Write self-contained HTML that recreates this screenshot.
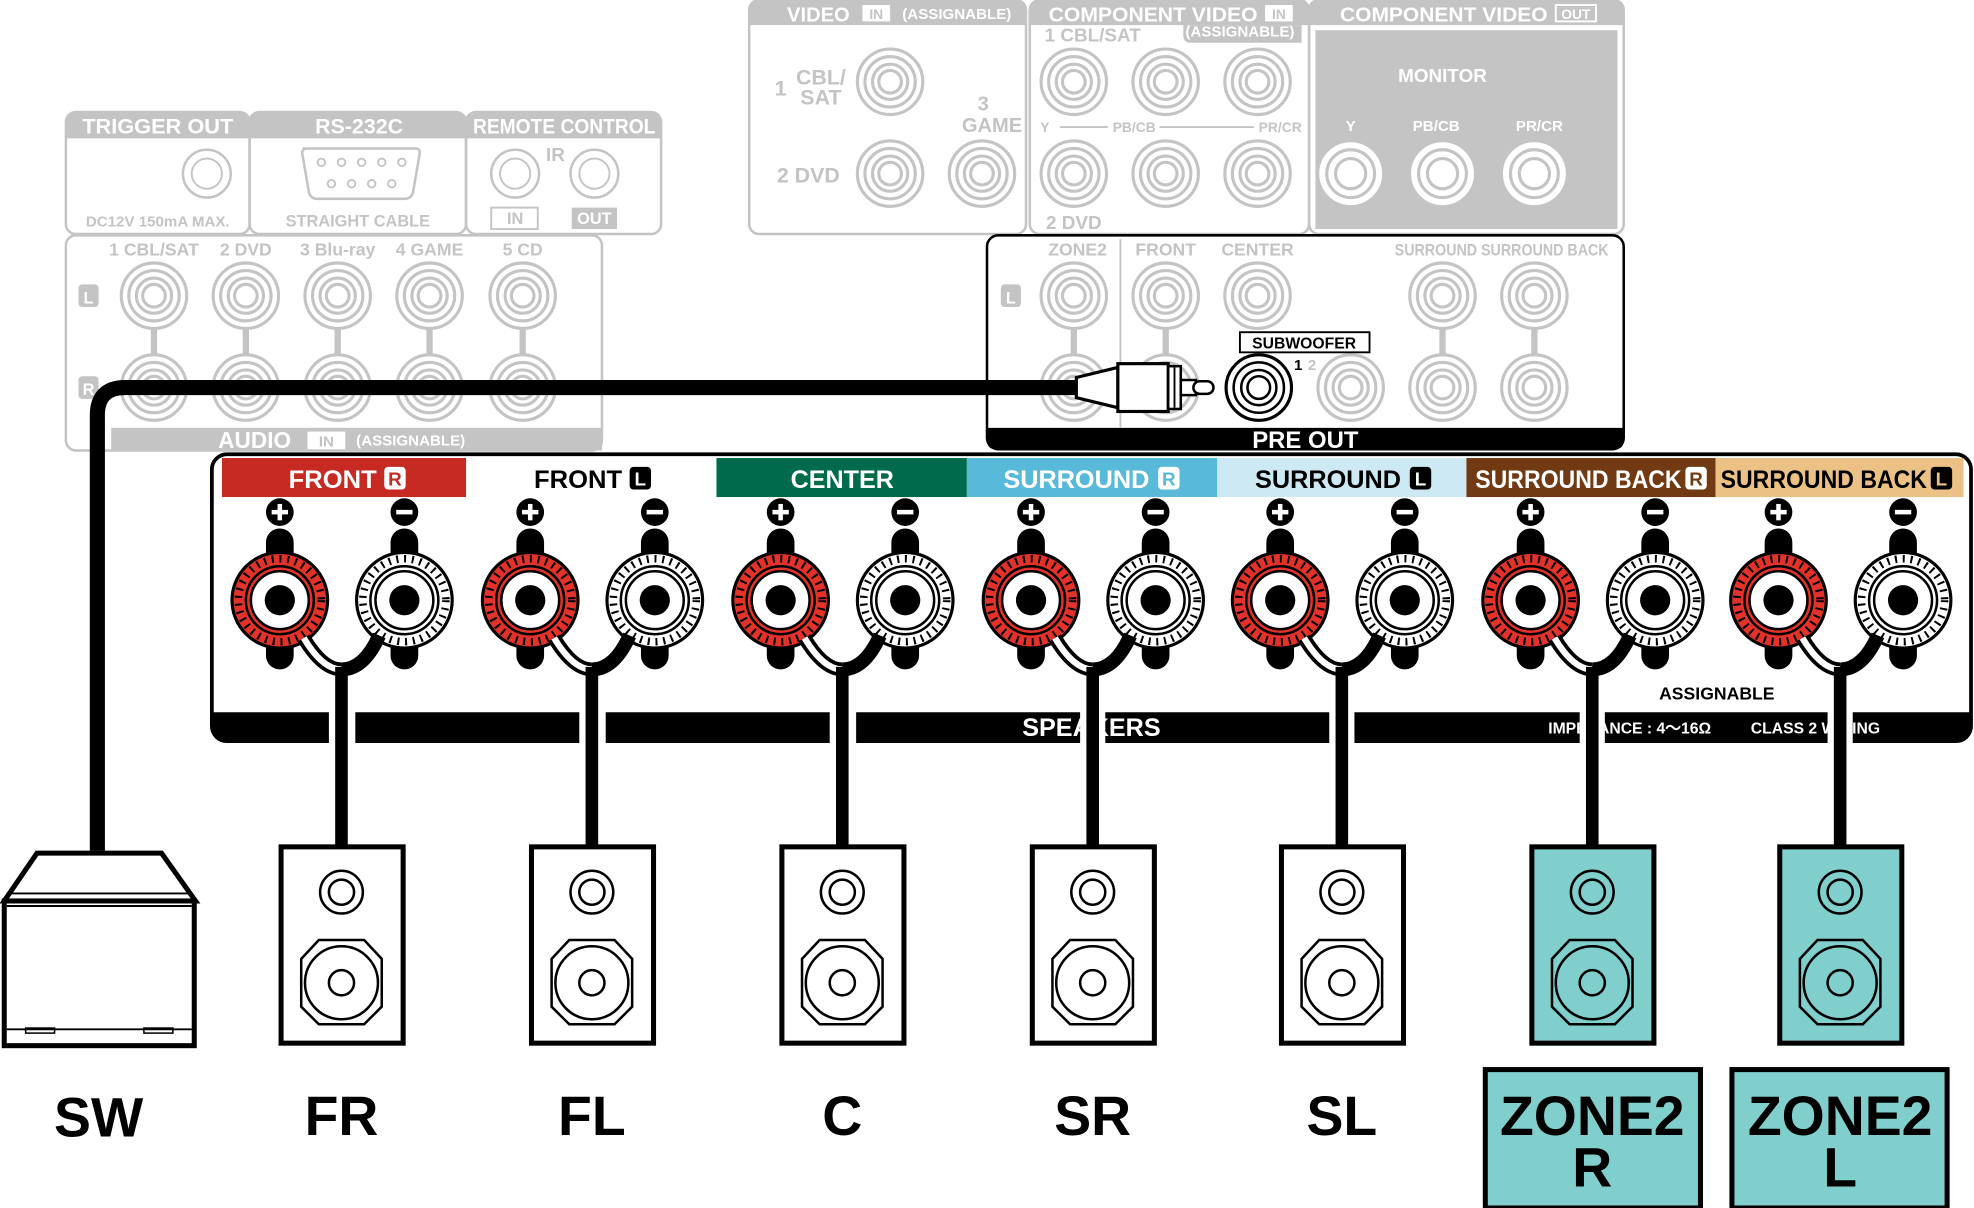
<!DOCTYPE html>
<html><head><meta charset="utf-8"><style>
html,body{margin:0;padding:0;background:#fff}
svg{display:block}
text{font-family:"Liberation Sans",sans-serif;font-weight:bold}
</style></head><body>
<svg width="1974" height="1208" viewBox="0 0 1568 960" xmlns="http://www.w3.org/2000/svg">
<defs>
<g id="j"><circle r="26" fill="#fff" stroke="#c4c4c4" stroke-width="2.5"/><circle r="20" fill="none" stroke="#c4c4c4" stroke-width="2.5"/><circle r="14" fill="none" stroke="#c4c4c4" stroke-width="2.5"/><circle r="9" fill="none" stroke="#c4c4c4" stroke-width="2.5"/></g>
<g id="jw"><circle r="26" fill="#fff" stroke="#c4c4c4" stroke-width="2"/><circle r="19" fill="none" stroke="#c4c4c4" stroke-width="2.5"/><circle r="12" fill="none" stroke="#c4c4c4" stroke-width="2.5"/></g>
<g id="tp"><rect x="-11" y="-57" width="22" height="112" rx="11" fill="#000"/><circle r="38" fill="#e2322a" stroke="#000" stroke-width="2.5"/><circle r="33" fill="none" stroke="#000" stroke-width="6" stroke-dasharray="1.6 4.6"/><circle r="27" fill="#e2322a" stroke="#000" stroke-width="2"/><circle r="23" fill="#fff" stroke="#000" stroke-width="2"/><circle r="12" fill="#000"/></g>
<g id="tm"><rect x="-11" y="-57" width="22" height="112" rx="11" fill="#000"/><circle r="38" fill="#fff" stroke="#000" stroke-width="2.5"/><circle r="33" fill="none" stroke="#000" stroke-width="6" stroke-dasharray="1.6 4.6"/><circle r="27" fill="#fff" stroke="#000" stroke-width="2"/><circle r="23" fill="#fff" stroke="#000" stroke-width="2"/><circle r="12" fill="#000"/></g>
<g id="pl"><circle r="11" fill="#000"/><rect x="-6.5" y="-1.8" width="13" height="3.6" fill="#fff"/><rect x="-1.8" y="-6.5" width="3.6" height="13" fill="#fff"/></g>
<g id="mi"><circle r="11" fill="#000"/><rect x="-6.5" y="-1.8" width="13" height="3.6" fill="#fff"/></g>
<g id="ch">
<use href="#tp" x="-49" y="477"/><use href="#tm" x="50" y="477"/>
<use href="#pl" x="-49" y="407"/><use href="#mi" x="50" y="407"/>
<path d="M-30 507 Q-15 532 0 532" fill="none" stroke="#000" stroke-width="11"/>
<path d="M-30 507 Q-15 532 0 532" fill="none" stroke="#fff" stroke-width="5"/>
<path d="M30 505 Q18 532 0 532" fill="none" stroke="#000" stroke-width="11"/>
</g>
<g id="spk">
<rect x="-48" y="673" width="97" height="156" stroke="#000" stroke-width="4"/>
<circle cx="0" cy="709" r="17" fill="none" stroke="#000" stroke-width="2"/>
<circle cx="0" cy="709" r="10" fill="none" stroke="#000" stroke-width="2"/>
<path d="M-18 747 L18 747 L32 762 L32 800 L18 814 L-18 814 L-32 800 L-32 762 Z" fill="none" stroke="#000" stroke-width="2"/>
<circle cx="0" cy="781" r="29" fill="none" stroke="#000" stroke-width="2"/>
<circle cx="0" cy="781" r="10" fill="none" stroke="#000" stroke-width="2"/>
</g>
</defs>

<!-- ===== top-left gray panels ===== -->
<g fill="none" stroke="#c4c4c4" stroke-width="2">
<rect x="52" y="89" width="146" height="97" rx="8"/>
<rect x="198" y="89" width="172" height="97" rx="8"/>
<rect x="370" y="89" width="155" height="97" rx="8"/>
<rect x="52" y="187" width="426" height="171" rx="8"/>
<rect x="595" y="0" width="220" height="186" rx="8"/>
<rect x="818" y="0" width="222" height="186" rx="8"/>
<rect x="1040" y="0" width="250" height="186" rx="8"/>
</g>
<g fill="#c4c4c4">
<path d="M52 110 V97 Q52 89 60 89 H190 Q198 89 198 97 V110Z"/>
<path d="M198 110 V97 Q198 89 206 89 H362 Q370 89 370 97 V110Z"/>
<path d="M370 110 V97 Q370 89 378 89 H517 Q525 89 525 97 V110Z"/>
<rect x="88" y="340" width="390" height="18"/>
<path d="M595 20 V8 Q595 0 603 0 H807 Q815 0 815 8 V20Z"/>
<path d="M818 20 V8 Q818 0 826 0 H1032 Q1040 0 1040 8 V20Z"/>
<path d="M1040 20 V8 Q1040 0 1048 0 H1282 Q1290 0 1290 8 V20Z"/>
<rect x="1045" y="24" width="240" height="158"/>
<path d="M940 20 H1034 V34 H946 Q940 34 940 28Z"/>
</g>
<g fill="#fff" font-size="17" text-anchor="middle">
<text x="125" y="106" textLength="120" lengthAdjust="spacingAndGlyphs">TRIGGER OUT</text>
<text x="285" y="106">RS-232C</text>
<text x="448" y="106" textLength="145" lengthAdjust="spacingAndGlyphs">REMOTE CONTROL</text>
<text x="650" y="17" font-size="16">VIDEO</text>
<text x="916" y="17" font-size="16" textLength="166" lengthAdjust="spacingAndGlyphs">COMPONENT VIDEO</text>
<text x="1147" y="17" font-size="16" textLength="165" lengthAdjust="spacingAndGlyphs">COMPONENT VIDEO</text>
<text x="985" y="29" font-size="12">(ASSIGNABLE)</text>
<text x="760" y="15" font-size="12">(ASSIGNABLE)</text>
<text x="1146" y="65" font-size="15">MONITOR</text>
<text x="1073" y="104" font-size="12">Y</text>
<text x="1141" y="104" font-size="12">PB/CB</text>
<text x="1223" y="104" font-size="12">PR/CR</text>
<text x="202" y="356" font-size="18">AUDIO</text>
<text x="326" y="354" font-size="12">(ASSIGNABLE)</text>
</g>
<rect x="685" y="4" width="22" height="13" fill="#fff"/><text x="696" y="15" font-size="11" fill="#c4c4c4" text-anchor="middle">IN</text>
<rect x="1005" y="4" width="22" height="13" fill="#fff"/><text x="1016" y="15" font-size="11" fill="#c4c4c4" text-anchor="middle">IN</text>
<rect x="1236" y="4" width="32" height="13" fill="none" stroke="#fff" stroke-width="1.5"/><text x="1252" y="15" font-size="11" fill="#fff" text-anchor="middle">OUT</text>
<rect x="244" y="343" width="30" height="14" fill="#fff"/><text x="259" y="355" font-size="12" fill="#c4c4c4" text-anchor="middle">IN</text>

<g fill="#c4c4c4" font-size="13" text-anchor="middle">
<text x="125" y="180" font-size="12">DC12V 150mA MAX.</text>
<text x="284" y="180">STRAIGHT CABLE</text>
<text x="441" y="128" font-size="15">IR</text>
<text x="409" y="178">IN</text>
<text x="122" y="203" font-size="14">1 CBL/SAT</text>
<text x="195" y="203" font-size="14">2 DVD</text>
<text x="268" y="203" font-size="14">3 Blu-ray</text>
<text x="341" y="203" font-size="14">4 GAME</text>
<text x="415" y="203" font-size="14">5 CD</text>
<text x="652" y="67" font-size="17">CBL/</text>
<text x="652" y="83" font-size="17">SAT</text>
<text x="620" y="76" font-size="17">1</text>
<text x="642" y="145" font-size="17">2  DVD</text>
<text x="781" y="88" font-size="16">3</text>
<text x="788" y="105" font-size="16">GAME</text>
<text x="868" y="33" font-size="15">1 CBL/SAT</text>
<text x="830" y="105" font-size="11">Y</text>
<text x="901" y="105" font-size="11">PB/CB</text>
<text x="1017" y="105" font-size="11">PR/CR</text>
<text x="853" y="182" font-size="15">2 DVD</text>
</g>
<g stroke="#c4c4c4" stroke-width="1.5"><line x1="842" y1="101" x2="880" y2="101"/><line x1="921" y1="101" x2="996" y2="101"/></g>
<rect x="390" y="165" width="37" height="17" fill="none" stroke="#c4c4c4" stroke-width="1.5"/>
<rect x="454" y="165" width="36" height="17" fill="#c4c4c4"/><text x="472" y="178" font-size="13" fill="#fff" text-anchor="middle">OUT</text>
<rect x="62" y="226" width="16" height="18" rx="3" fill="#c4c4c4"/><text x="70" y="241" font-size="13" fill="#fff" text-anchor="middle">L</text>
<rect x="62" y="299" width="16" height="18" rx="3" fill="#c4c4c4"/><text x="70" y="314" font-size="13" fill="#fff" text-anchor="middle">R</text>
<path d="M240 118 H330 Q334 118 333 123 L328 152 Q327 158 321 158 H252 Q246 158 245 152 L240 123 Q239 118 244 118Z" fill="none" stroke="#c4c4c4" stroke-width="2"/>
<g fill="none" stroke="#c4c4c4" stroke-width="1.5"><circle cx="255" cy="129" r="3"/><circle cx="271" cy="129" r="3"/><circle cx="287" cy="129" r="3"/><circle cx="303" cy="129" r="3"/><circle cx="319" cy="129" r="3"/><circle cx="263" cy="146" r="3"/><circle cx="279" cy="146" r="3"/><circle cx="295" cy="146" r="3"/><circle cx="311" cy="146" r="3"/>
<circle cx="164" cy="138" r="19" stroke-width="2"/><circle cx="164" cy="138" r="12"/>
<circle cx="409" cy="138" r="19" stroke-width="2"/><circle cx="409" cy="138" r="12"/>
<circle cx="472" cy="138" r="19" stroke-width="2"/><circle cx="472" cy="138" r="12"/></g>
<g stroke="#c4c4c4" stroke-width="5"><line x1="122" y1="260" x2="122" y2="285"/><line x1="195" y1="260" x2="195" y2="285"/><line x1="268" y1="260" x2="268" y2="285"/><line x1="341" y1="260" x2="341" y2="285"/><line x1="415" y1="260" x2="415" y2="285"/></g>
<use href="#j" x="122" y="235"/><use href="#j" x="195" y="235"/><use href="#j" x="268" y="235"/><use href="#j" x="341" y="235"/><use href="#j" x="415" y="235"/>
<use href="#j" x="122" y="308"/><use href="#j" x="195" y="308"/><use href="#j" x="268" y="308"/><use href="#j" x="341" y="308"/><use href="#j" x="415" y="308"/>
<use href="#j" x="707" y="65"/><use href="#j" x="707" y="138"/><use href="#j" x="780" y="138"/>
<use href="#j" x="853" y="65"/><use href="#j" x="926" y="65"/><use href="#j" x="999" y="65"/>
<use href="#j" x="853" y="138"/><use href="#j" x="926" y="138"/><use href="#j" x="999" y="138"/>
<use href="#jw" x="1073" y="138"/><use href="#jw" x="1146" y="138"/><use href="#jw" x="1219" y="138"/>

<!-- ===== PRE OUT panel ===== -->
<rect x="784" y="187" width="506" height="170" rx="9" fill="#fff" stroke="#000" stroke-width="2"/>
<path d="M784 340 H1290 V350 Q1290 357 1283 357 H791 Q784 357 784 350Z" fill="#000"/>
<text x="1037" y="356" font-size="19" fill="#fff" text-anchor="middle">PRE OUT</text>
<line x1="890" y1="190" x2="890" y2="340" stroke="#c4c4c4" stroke-width="1.5"/>
<g fill="#c4c4c4" font-size="14" text-anchor="middle">
<text x="856" y="203">ZONE2</text>
<text x="926" y="203">FRONT</text>
<text x="999" y="203">CENTER</text>
<text x="1193" y="203" font-size="13" textLength="170" lengthAdjust="spacingAndGlyphs">SURROUND SURROUND BACK</text>
</g>
<rect x="795" y="226" width="16" height="18" rx="3" fill="#c4c4c4"/><text x="803" y="241" font-size="13" fill="#fff" text-anchor="middle">L</text>
<g stroke="#c4c4c4" stroke-width="5"><line x1="853" y1="260" x2="853" y2="285"/><line x1="926" y1="260" x2="926" y2="285"/><line x1="1146" y1="260" x2="1146" y2="285"/><line x1="1219" y1="260" x2="1219" y2="285"/></g>
<use href="#j" x="853" y="235"/><use href="#j" x="926" y="235"/><use href="#j" x="999" y="235"/><use href="#j" x="1146" y="235"/><use href="#j" x="1219" y="235"/>
<use href="#j" x="853" y="308"/><use href="#j" x="926" y="308"/><use href="#j" x="1073" y="308"/><use href="#j" x="1146" y="308"/><use href="#j" x="1219" y="308"/>
<rect x="985" y="264" width="103" height="16" fill="#fff" stroke="#000" stroke-width="1.5"/>
<text x="1036" y="277" font-size="12.5" text-anchor="middle">SUBWOOFER</text>
<text x="1028" y="294" font-size="12">1</text><text x="1039" y="294" font-size="12" fill="#c4c4c4">2</text>
<circle cx="1000" cy="308" r="26" fill="#fff" stroke="#000" stroke-width="2.5"/>
<circle cx="1000" cy="308" r="20" fill="none" stroke="#000" stroke-width="2"/>
<circle cx="1000" cy="308" r="14" fill="none" stroke="#000" stroke-width="2"/>
<circle cx="1000" cy="308" r="9" fill="none" stroke="#000" stroke-width="2"/>

<!-- SW cable -->
<path d="M77 676 V330 Q77 308 99 308 H860" fill="none" stroke="#000" stroke-width="12"/>
<path d="M855 300 L888 292 V324 L855 316Z" fill="#fff" stroke="#000" stroke-width="2.5"/>
<rect x="888" y="289" width="40" height="38" fill="#fff" stroke="#000" stroke-width="2.5"/>
<rect x="928" y="291" width="10" height="34" fill="#fff" stroke="#000" stroke-width="2"/>
<line x1="933" y1="292" x2="933" y2="324" stroke="#000" stroke-width="1.5"/>
<rect x="938" y="302" width="12" height="12" fill="#fff" stroke="#000" stroke-width="2"/>
<rect x="948" y="303" width="16" height="10" rx="5" fill="#fff" stroke="#000" stroke-width="2"/>

<!-- ===== SPEAKERS panel ===== -->
<rect x="168" y="361" width="1398" height="228" rx="12" fill="#fff" stroke="#000" stroke-width="3"/>
<path d="M168 566 H1566 V578 Q1566 590 1554 590 H180 Q168 590 168 578Z" fill="#000"/>
<rect x="176" y="364" width="194" height="31" fill="#c62a22"/>
<rect x="569" y="364" width="199" height="31" fill="#006b4c"/>
<rect x="768" y="364" width="199" height="31" fill="#58bad8"/>
<rect x="967" y="364" width="198" height="31" fill="#cde9f3"/>
<rect x="1165" y="364" width="198" height="31" fill="#723a12"/>
<rect x="1363" y="364" width="197" height="31" fill="#ecc186"/>
<g font-size="20">
<text x="229" y="388" fill="#fff" textLength="70" lengthAdjust="spacingAndGlyphs">FRONT</text>
<rect x="305" y="371" width="17" height="18" rx="3" fill="#fff"/><text x="313.5" y="386" font-size="15" fill="#c62a22" text-anchor="middle">R</text>
<text x="424" y="388" fill="#000" textLength="70" lengthAdjust="spacingAndGlyphs">FRONT</text>
<rect x="500" y="371" width="17" height="18" rx="3" fill="#000"/><text x="508.5" y="386" font-size="15" fill="#fff" text-anchor="middle">L</text>
<text x="669" y="388" fill="#fff" text-anchor="middle" textLength="82" lengthAdjust="spacingAndGlyphs">CENTER</text>
<text x="797" y="388" fill="#fff" textLength="116" lengthAdjust="spacingAndGlyphs">SURROUND</text>
<rect x="920" y="371" width="17" height="18" rx="3" fill="#fff"/><text x="928.5" y="386" font-size="15" fill="#58bad8" text-anchor="middle">R</text>
<text x="997" y="388" fill="#000" textLength="116" lengthAdjust="spacingAndGlyphs">SURROUND</text>
<rect x="1120" y="371" width="17" height="18" rx="3" fill="#000"/><text x="1128.5" y="386" font-size="15" fill="#fff" text-anchor="middle">L</text>
<text x="1172" y="388" fill="#fff" textLength="164" lengthAdjust="spacingAndGlyphs">SURROUND BACK</text>
<rect x="1339" y="371" width="17" height="18" rx="3" fill="#fff"/><text x="1347.5" y="386" font-size="15" fill="#723a12" text-anchor="middle">R</text>
<text x="1367" y="388" fill="#000" textLength="164" lengthAdjust="spacingAndGlyphs">SURROUND BACK</text>
<rect x="1534" y="371" width="17" height="18" rx="3" fill="#000"/><text x="1542.5" y="386" font-size="15" fill="#ecc186" text-anchor="middle">L</text>
</g>
<text x="867" y="585" font-size="20" fill="#fff" text-anchor="middle">SPEAKERS</text>
<text x="1230" y="583" font-size="12.5" fill="#fff">IMPEDANCE : 4～16Ω</text>
<text x="1391" y="583" font-size="12.5" fill="#fff">CLASS 2 WIRING</text>
<text x="1364" y="556" font-size="14" text-anchor="middle">ASSIGNABLE</text>
<g fill="#fff">
<rect x="261" y="564" width="21" height="28"/><rect x="460" y="564" width="21" height="28"/><rect x="659" y="564" width="21" height="28"/><rect x="858" y="564" width="20" height="28"/><rect x="1056" y="564" width="20" height="28"/><rect x="1255" y="564" width="20" height="28"/><rect x="1452" y="564" width="20" height="28"/>
</g>
<use href="#ch" x="271"/><use href="#ch" x="470"/><use href="#ch" x="669"/><use href="#ch" x="868"/><use href="#ch" x="1066"/><use href="#ch" x="1265"/><use href="#ch" x="1462"/>
<g stroke="#000" stroke-width="10">
<line x1="271" y1="530" x2="271" y2="673"/><line x1="470" y1="530" x2="470" y2="673"/><line x1="669" y1="530" x2="669" y2="673"/><line x1="868" y1="530" x2="868" y2="673"/><line x1="1066" y1="530" x2="1066" y2="673"/><line x1="1265" y1="530" x2="1265" y2="673"/><line x1="1462" y1="530" x2="1462" y2="673"/>
</g>

<!-- ===== speakers ===== -->
<use href="#spk" x="271" fill="#fff"/><use href="#spk" x="470" fill="#fff"/><use href="#spk" x="669" fill="#fff"/><use href="#spk" x="868" fill="#fff"/><use href="#spk" x="1066" fill="#fff"/>
<use href="#spk" x="1265" fill="#80cfcc"/><use href="#spk" x="1462" fill="#80cfcc"/>

<!-- subwoofer -->
<path d="M29 678 H128 L155 716 H3 Z" fill="#fff" stroke="#000" stroke-width="4"/>
<rect x="3" y="716" width="151" height="115" fill="#fff" stroke="#000" stroke-width="4"/>
<line x1="8" y1="710" x2="150" y2="710" stroke="#000" stroke-width="1.5"/>
<line x1="5" y1="720" x2="152" y2="720" stroke="#000" stroke-width="1.5"/>
<line x1="5" y1="818" x2="152" y2="818" stroke="#000" stroke-width="1.5"/>
<rect x="20" y="817" width="23" height="4" fill="none" stroke="#000" stroke-width="1.2"/>
<rect x="114" y="817" width="23" height="4" fill="none" stroke="#000" stroke-width="1.2"/>

<!-- labels -->
<g font-size="44" text-anchor="middle">
<text x="78" y="903">SW</text>
<text x="271" y="902">FR</text>
<text x="470" y="902">FL</text>
<text x="669" y="902">C</text>
<text x="868" y="902">SR</text>
<text x="1066" y="902">SL</text>
</g>
<rect x="1180" y="850" width="171" height="110" fill="#80cfcc" stroke="#000" stroke-width="4"/>
<rect x="1376" y="850" width="171" height="110" fill="#80cfcc" stroke="#000" stroke-width="4"/>
<g font-size="44" text-anchor="middle">
<text x="1265" y="902">ZONE2</text><text x="1265" y="943">R</text>
<text x="1462" y="902">ZONE2</text><text x="1462" y="943">L</text>
</g>
</svg>
</body></html>
